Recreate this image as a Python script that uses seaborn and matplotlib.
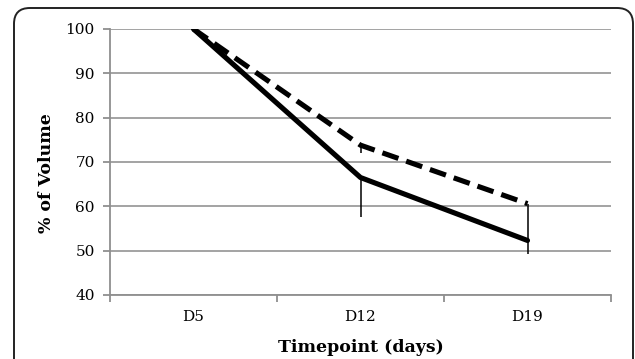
import matplotlib
matplotlib.use("Agg")
import matplotlib.pyplot as plt
from matplotlib.patches import FancyBboxPatch
import seaborn as sns
import pandas as pd

# values
timepoints = ["D5", "D12", "D19"]
series_names = ["solid", "dashed"]
solid_values = [100, 66.5, 52.3]
dashed_values = [100, 73.8, 60.6]
solid_err_minus = [0, 9.0, 3.0]
dashed_err_minus = [0, 1.8, 8.5]
y_ticks = [40, 50, 60, 70, 80, 90, 100]

sns.set_theme(style="white")
plt.rcParams["font.family"] = ["DejaVu Serif"]
plt.rcParams["text.color"] = "black"
plt.rcParams["axes.labelcolor"] = "black"

df = pd.DataFrame({
    "x": list(range(len(timepoints))) * 2,
    "value": solid_values + dashed_values,
    "series": [series_names[0]] * 3 + [series_names[1]] * 3,
})

fig = plt.figure(figsize=(6.35, 3.59), dpi=100)
ax = fig.add_axes([110 / 635, 1 - 295 / 359, 501 / 635, 266 / 359])

# rounded frame around the whole chart
frame = FancyBboxPatch((14 / 635, -0.2), 619 / 635, 1.2 - 8 / 359,
                       boxstyle="round,pad=0,rounding_size=0.025",
                       transform=fig.transFigure, fill=False,
                       edgecolor="#222222", linewidth=1.4, zorder=0,
                       mutation_aspect=635 / 359)
fig.patches.append(frame)

ax.grid(axis="y", color="#8f8f8f", linewidth=1.15)
ax.set_axisbelow(True)

sns.lineplot(data=df, x="x", y="value", hue="series", style="series",
             palette={"solid": "black", "dashed": "black"},
             dashes={"solid": "", "dashed": (3.3, 1.6)},
             linewidth=3.7, legend=False, ax=ax, zorder=3)
for ln in ax.lines:
    ln.set_solid_capstyle("round")
    ln.set_dash_capstyle("butt")

xs = list(range(len(timepoints)))
ax.errorbar(xs, solid_values, yerr=[solid_err_minus, [0] * 3], fmt="none",
            ecolor="black", elinewidth=1.1, capsize=0, zorder=4)
ax.errorbar(xs, dashed_values, yerr=[dashed_err_minus, [0] * 3], fmt="none",
            ecolor="black", elinewidth=1.1, capsize=0, zorder=4)

ax.set_xlim(-0.5, len(timepoints) - 0.5)
ax.set_ylim(40, 100)
ax.set_yticks(y_ticks)
ax.set_xticks([i - 0.5 for i in range(len(timepoints) + 1)])
ax.set_xticklabels([])
ax.set_xticks(xs, minor=True)
ax.set_xticklabels(timepoints, minor=True)

for side in ["top", "right"]:
    ax.spines[side].set_visible(False)
for side in ["left", "bottom"]:
    ax.spines[side].set_color("#8f8f8f")
    ax.spines[side].set_linewidth(1.3)

ax.tick_params(axis="both", which="major", direction="out", length=5,
               width=1.3, color="#8f8f8f", labelsize=11, labelcolor="black",
               left=True, bottom=True)
ax.tick_params(axis="x", which="minor", length=0, labelsize=11,
               labelcolor="black", pad=11)
ax.tick_params(axis="y", pad=6)

ax.set_xlabel("Timepoint (days)", fontsize=12.5, fontweight="bold")
ax.set_ylabel("% of Volume", fontsize=12.5, fontweight="bold")
ax.xaxis.set_label_coords(0.5, -0.165)
ax.yaxis.set_label_coords(-0.11, 0.46)

fig.savefig("out.png", dpi=100)
